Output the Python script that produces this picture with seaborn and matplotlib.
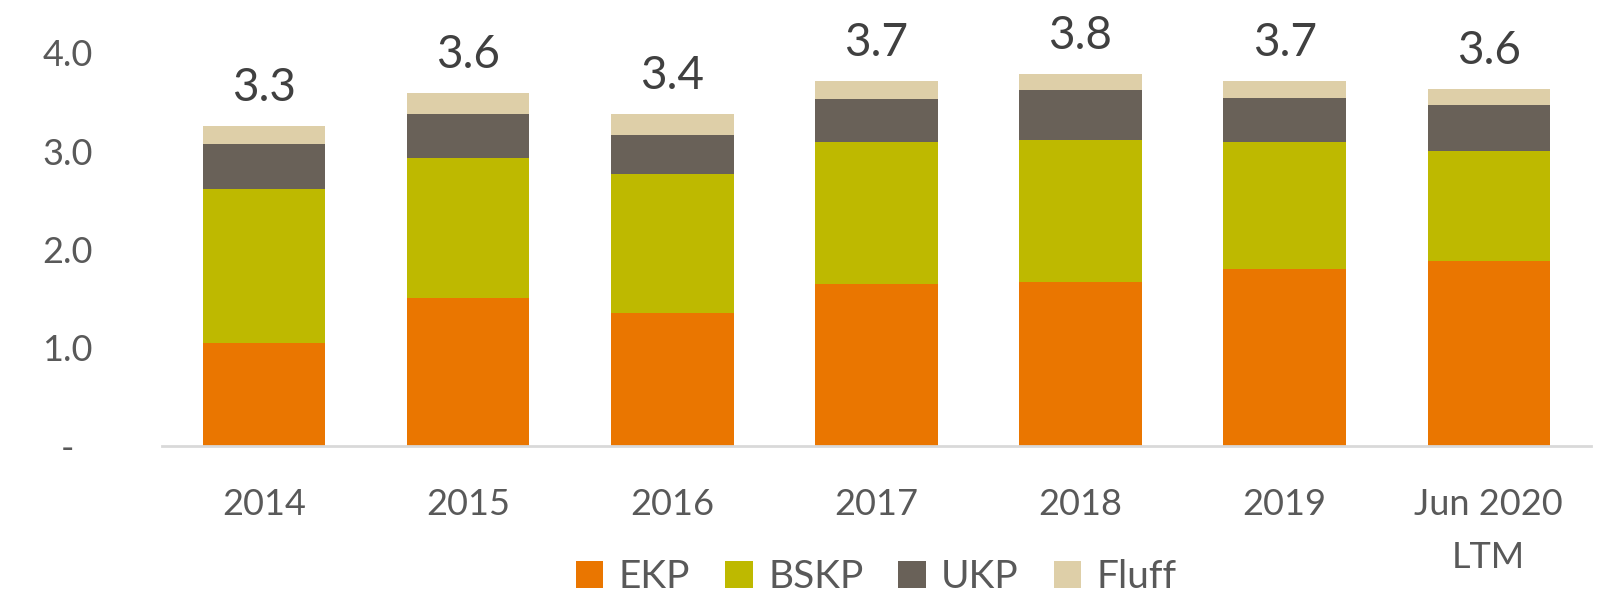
import matplotlib
matplotlib.use("Agg")
import matplotlib.pyplot as plt
from matplotlib.patches import Patch
import numpy as np
import pandas as pd
import seaborn as sns

categories = ["2014", "2015", "2016", "2017", "2018", "2019", "Jun 2020\nLTM"]
ekp = [1.05, 1.51, 1.35, 1.65, 1.67, 1.80, 1.88]
bskp = [1.56, 1.42, 1.42, 1.44, 1.44, 1.29, 1.12]
ukp = [0.46, 0.45, 0.39, 0.44, 0.51, 0.45, 0.47]
fluff = [0.19, 0.21, 0.22, 0.18, 0.16, 0.17, 0.16]

series_names = ["EKP", "BSKP", "UKP", "Fluff"]
series_colors = ["#EA7600", "#BEB900", "#696158", "#DECFA8"]
y_ticks = [0, 1, 2, 3, 4]
y_tick_labels = ["-  ", "1.0", "2.0", "3.0", "4.0"]

sns.set_theme(style="white")
plt.rcParams["font.family"] = ["Lato", "DejaVu Sans"]

df = pd.DataFrame({"category": categories, "EKP": ekp, "BSKP": bskp,
                   "UKP": ukp, "Fluff": fluff})
cum = df[series_names].cumsum(axis=1)
totals = cum["Fluff"].to_numpy()

fig = plt.figure(figsize=(16.09, 5.97), dpi=100)
ax = fig.add_axes([0.1007, 0.2529, 0.888, 0.741])

# stacked bars: draw cumulative heights from the top layer down
for name, color in reversed(list(zip(series_names, series_colors))):
    sns.barplot(x=df["category"], y=cum[name], color=color, width=0.6,
                saturation=1, ax=ax, order=categories, linewidth=0,
                edgecolor="none")

# total labels above each stack
for i, tot in enumerate(totals):
    ax.annotate(f"{tot:.1f}", xy=(i, tot), xytext=(0, 18),
                textcoords="offset points", ha="center", va="baseline",
                fontsize=33, color="#404040")

ax.set_xlim(-0.5, len(categories) - 0.5)
ax.set_ylim(0, 4.5)
ax.set_yticks(y_ticks)
ax.set_yticklabels(y_tick_labels)
ax.set_xlabel("")
ax.set_ylabel("")

for side in ["top", "right", "left"]:
    ax.spines[side].set_visible(False)
ax.spines["bottom"].set_color("#D9D9D9")
ax.spines["bottom"].set_linewidth(2)

ax.tick_params(axis="y", length=0, pad=50, labelsize=26, labelcolor="#595959")
ax.tick_params(axis="x", length=0, pad=30, labelsize=26, labelcolor="#595959")
for lbl in ax.get_xticklabels():
    lbl.set_linespacing(1.75)

handles = [Patch(facecolor=c, edgecolor="none", label=n)
           for n, c in zip(series_names, series_colors)]
fig.legend(handles=handles, loc="lower center", ncol=4, frameon=False,
           bbox_to_anchor=(0.5447, -0.055), fontsize=28, labelcolor="#595959",
           handlelength=0.7, handleheight=0.7, handletextpad=0.4,
           columnspacing=0.9)

fig.savefig("out.png", dpi=100)
